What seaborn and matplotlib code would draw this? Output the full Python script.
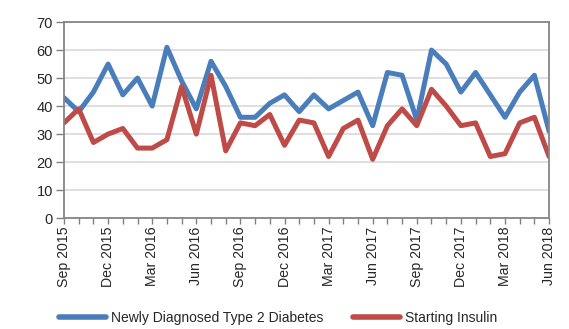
import matplotlib
matplotlib.use("Agg")
import matplotlib.pyplot as plt
import seaborn as sns
import pandas as pd

# Monthly counts, Sep 2015 – Jun 2018
months = pd.date_range("2015-09-01", "2018-06-01", freq="MS")
month_labels = [m.strftime("%b %Y") for m in months]

newly_diagnosed = [43, 38, 45, 55, 44, 50, 40, 61, 49, 39, 56, 47,
                   36, 36, 41, 44, 38, 44, 39, 42, 45, 33, 52, 51,
                   35, 60, 55, 45, 52, 44, 36, 45, 51, 31]
starting_insulin = [34, 39, 27, 30, 32, 25, 25, 28, 47, 30, 51, 24,
                    34, 33, 37, 26, 35, 34, 22, 32, 35, 21, 33, 39,
                    33, 46, 40, 33, 34, 22, 23, 34, 36, 22]

series_names = ["Newly Diagnosed Type 2 Diabetes", "Starting Insulin"]
colors = ["#4A7EBB", "#BE4B48"]

idx = list(range(len(months)))
df = pd.DataFrame({
    "idx": idx * 2,
    "value": newly_diagnosed + starting_insulin,
    "series": [series_names[0]] * len(idx) + [series_names[1]] * len(idx),
})

sns.set_theme(style="white")
plt.rcParams["font.family"] = ["Liberation Sans", "DejaVu Sans"]

fig = plt.figure(figsize=(5.69, 3.29), dpi=100)
ax = fig.add_axes([0.1125, 0.337, 0.8525, 0.596])

sns.lineplot(data=df, x="idx", y="value", hue="series",
             palette=dict(zip(series_names, colors)), linewidth=3.6,
             ax=ax, legend=False)

ax.set_xlim(0, len(idx) - 1)
ax.set_ylim(0, 70)
ax.set_yticks(range(0, 71, 10))
ax.yaxis.grid(True, color="#D9D9D9", linewidth=1.2)
ax.set_axisbelow(True)

major = idx[::3]
ax.set_xticks(major)
ax.set_xticklabels([month_labels[i] for i in major], rotation=90, fontsize=10.2)
ax.set_xticks(idx, minor=True)
ax.tick_params(axis="x", which="both", direction="out", length=4,
               color="#808080", width=1, bottom=True, pad=2)
ax.tick_params(axis="y", direction="out", length=6, color="#808080",
               width=1, left=True, labelsize=10.5, pad=2)
ax.set_xlabel("")
ax.set_ylabel("")

for s in ax.spines.values():
    s.set_color("#868686")
    s.set_linewidth(1.3)

handles = [plt.Line2D([], [], color=c, linewidth=4) for c in colors]
fig.legend(handles, series_names, loc="lower center", ncol=2,
           bbox_to_anchor=(0.489, -0.025), frameon=False, fontsize=10,
           handlelength=3.4, columnspacing=2.1, handletextpad=0.35)

fig.savefig("out.png", dpi=100)
